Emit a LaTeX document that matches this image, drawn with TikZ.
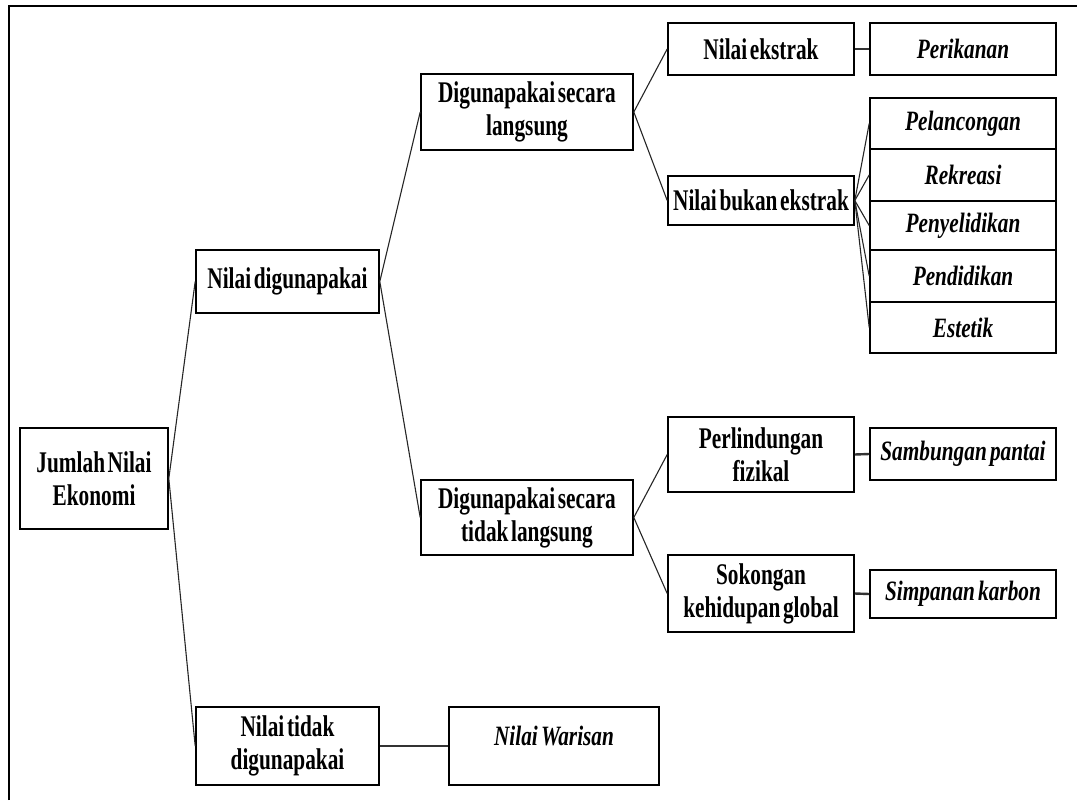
\documentclass[tikz,border=0pt]{standalone}
\usepackage{fontspec}
\setmainfont{Liberation Serif}
\newfontfamily\boxfont{Liberation Serif}[FakeStretch=0.71, WordSpace=0.5]
\newfontfamily\leaffont{Liberation Serif}[FakeStretch=0.76, WordSpace=0.6]
\begin{document}
\begin{tikzpicture}[x=1pt, y=-1pt,
  bx/.style={draw=black, line width=1.6pt, fill=white, align=center, inner sep=0pt,
    font=\boxfont\fontsize{30}{33}\selectfont\bfseries},
  ix/.style={bx, font=\leaffont\fontsize{28}{33}\selectfont\bfseries\itshape},
  link/.style={draw=black!85, line width=1.1pt},
  hlink/.style={draw=black!80, line width=2.4pt}]
\useasboundingbox (0,0) rectangle (1086,800);
% frame
\draw[line width=2pt] (9,800) -- (9,6) -- (1077,6);

% level 0 / 1
\node[bx, minimum width=148pt, minimum height=101pt] (jum) at (94,478.5) {Jumlah Nilai\\Ekonomi};
\node[bx, minimum width=183pt, minimum height=63pt] (dig) at (287.5,281.5) {Nilai digunapakai};
\node[bx, minimum width=183pt, minimum height=78pt] (tdg) at (287.5,746) {Nilai tidak\\digunapakai};
\node[ix, minimum width=210pt, minimum height=78pt] (war) at (554,746) {};
\node[font=\leaffont\fontsize{28}{33}\selectfont\bfseries\itshape] (wart) at (554,736) {Nilai Warisan};

% level 2
\node[bx, minimum width=212pt, minimum height=76pt] (lgs) at (527,112) {Digunapakai secara\\langsung};
\node[bx, minimum width=212pt, minimum height=75pt] (tlg) at (527,517.5) {Digunapakai secara\\tidak langsung};

% level 3
\node[bx, minimum width=186pt, minimum height=52pt] (ekt) at (761,49) {Nilai ekstrak};
\node[bx, minimum width=186pt, minimum height=49pt] (bek) at (761,200.5) {Nilai bukan ekstrak};
\node[bx, minimum width=186pt, minimum height=75pt] (plf) at (761,454.5) {Perlindungan\\fizikal};
\node[bx, minimum width=186pt, minimum height=77pt] (skg) at (761,593.5) {Sokongan\\kehidupan global};

% level 4
\node[ix, minimum width=186pt, minimum height=52pt] (pkn) at (963,49) {Perikanan};
\node[ix, minimum width=186pt, minimum height=51pt] (plc) at (963,123.5) {Pelancongan};
\node[ix, minimum width=186pt, minimum height=52pt] (rek) at (963,175) {Rekreasi};
\node[ix, minimum width=186pt, minimum height=49pt] (pny) at (963,225.5) {Penyelidikan};
\node[ix, minimum width=186pt, minimum height=52pt] (pdd) at (963,276) {Pendidikan};
\node[ix, minimum width=186pt, minimum height=51pt] (est) at (963,327.5) {Estetik};
\node[ix, minimum width=186pt, minimum height=52pt] (smb) at (963,454) {Sambungan pantai};
\node[ix, minimum width=186pt, minimum height=48pt] (krb) at (963,594) {Simpanan karbon};

% connectors
\draw[link] (jum.east) -- (dig.west);
\draw[link] (jum.east) -- (tdg.west);
\draw[link] (dig.east) -- (lgs.west);
\draw[link] (dig.east) -- (tlg.west);
\draw[link] (lgs.east) -- (ekt.west);
\draw[link] (lgs.east) -- (bek.west);
\draw[link] (tlg.east) -- (plf.west);
\draw[link] (tlg.east) -- (skg.west);
\foreach \t in {plc,rek,pny,pdd,est}
  \draw[link] (bek.east) -- (\t.west);
\draw[hlink] (ekt.east) -- (pkn.west);
\draw[hlink] (plf.east) -- (smb.west);
\draw[hlink] (skg.east) -- (krb.west);
\draw[hlink] (tdg.east) -- (war.west);
\end{tikzpicture}
\end{document}
